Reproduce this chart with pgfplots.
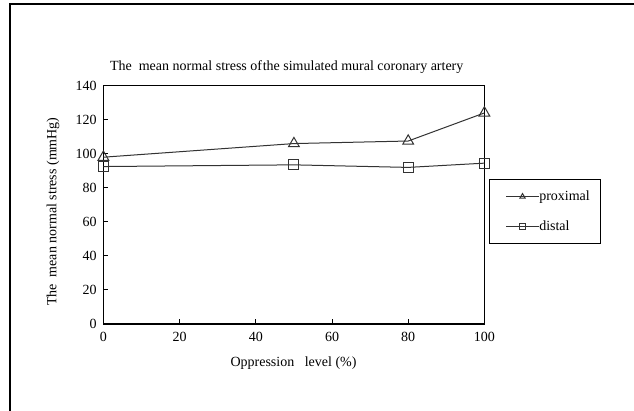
\documentclass[border=0pt]{standalone}
\usepackage{pgfplots}
\pgfplotsset{compat=1.18}
\usepackage{fontspec}
\setmainfont{Liberation Serif}
\begin{document}
\fontsize{14bp}{16bp}\selectfont
\begin{tikzpicture}
\useasboundingbox (0,0) rectangle (634bp,411bp);
\fill[white] (0,0) rectangle (634bp,411bp);
\draw[line width=2bp] (10bp,-5bp) -- (10bp,407bp) -- (640bp,407bp);
\begin{axis}[
  scale only axis,
  width=381bp, height=238.3bp,
  at={(103.4bp,87bp)}, anchor=south west,
  xmin=0, xmax=100, ymin=0, ymax=140,
  xtick={0,20,...,100}, ytick={0,20,...,140},
  tick align=inside, xtick pos=bottom, ytick pos=left,
  major tick length=5bp,
  axis line style={line width=1.2bp},
  every tick/.style={black, line width=1bp},
  tick label style={font=\fontsize{14bp}{16bp}\selectfont},
  /pgf/number format/assume math mode=true,
  xticklabel style={yshift=-3bp},
  yticklabel style={xshift=-2bp},
  legend style={at={(1.0129,0.6072)}, anchor=north west, draw=black, line width=0.8bp,
    inner xsep=11bp, inner ysep=2bp, font=\fontsize{14bp}{16bp}\selectfont,
    nodes={inner sep=0pt, minimum height=29.7bp},
    /tikz/every even column/.style={column sep=3.7bp}},
  legend cell align=left,
  legend image code/.code={%
    \path (-5bp,0bp);
    \draw[mark repeat=2, mark phase=2, mark size=3bp, line width=0.9bp]
      plot coordinates {(0bp,0bp) (16.3bp,0bp) (32.6bp,0bp)};},
]
\addplot[color=black!80, line width=1bp, mark=triangle, mark size=6.2bp,
  mark options={solid, fill=white, line width=1bp}]
  coordinates {(0,98) (50,106) (80,107.5) (100,124)};
\addlegendentry{proximal}
\addplot[color=black!80, line width=1bp, mark=square, mark size=5bp,
  mark options={solid, fill=white, line width=1bp}]
  coordinates {(0,92.5) (50,93.5) (80,92) (100,94.5)};
\addlegendentry{distal}
\end{axis}
\node at (286.7bp,343.7bp) {The\ \ mean normal stress of\kern0.05em the simulated mural coronary artery};
\node[rotate=90] at (53bp,199.3bp) {The\ \ mean normal stress (mmHg)};
\node at (293.5bp,48.3bp) {Oppression\ \ \ level (\%)};
\end{tikzpicture}
\end{document}
